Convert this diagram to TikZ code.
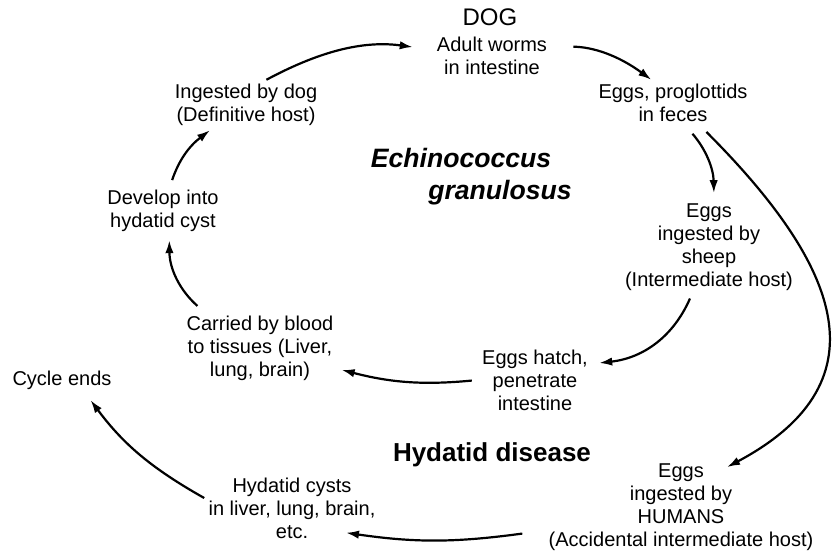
\documentclass[tikz,border=0pt]{standalone}
\usepackage{fontspec}
\setmainfont{Liberation Sans}
\usetikzlibrary{arrows.meta}
\tikzset{>=latex}
\tikzset{
	lbl/.style={align=center, inner sep=2pt, font=\fontsize{10}{11.5}\selectfont},
	ttl/.style={inner sep=2pt, font=\fontsize{13.3}{15}\selectfont\bfseries\itshape},
	cyc/.style={-{Latex[length=6.5pt, width=4.2pt]}, line width=1.1pt}
}

\begin{document}
\begin{tikzpicture}[x=0.5pt, y=-0.5pt]
	% Frame:
	\useasboundingbox (0, 0) rectangle (837, 556);
	% Stages of the cycle:
	\node[lbl, font=\fontsize{12}{14}\selectfont] (dog) at (490, 17){DOG};
	\node[lbl] (adult) at (492, 56){Adult worms\\in intestine};
	\node[lbl] (feces) at (673, 103){Eggs, proglottids\\in feces};
	\node[lbl] (sheep) at (709, 247){Eggs\\ingested by\\sheep\\(Intermediate host)};
	\node[lbl] (hatch) at (535, 380){Eggs hatch,\\penetrate\\intestine};
	\node[lbl] (carried) at (260, 348){Carried by blood\\to tissues (Liver,\\lung, brain)};
	\node[lbl] (develop) at (163, 211){Develop into\\hydatid cyst};
	\node[lbl] (ingested) at (246, 105){Ingested by dog\\(Definitive host)};
	\node[lbl] (humans) at (681, 507){Eggs\\ingested by\\HUMANS\\(Accidental intermediate host)};
	\node[lbl] (cysts) at (292, 508){Hydatid cysts\\in liver, lung, brain,\\etc.};
	\node[lbl] (cycle) at (62, 380){Cycle ends};
	% Titles:
	\node[ttl] (echi) at (461, 158){Echinococcus};
	\node[ttl] (gran) at (500, 193){granulosus};
	\node[ttl, font=\fontsize{13}{15}\selectfont\bfseries] (disease) at (492, 455){Hydatid disease};
	% Arrows:
	\draw[cyc, shorten >=10pt] (ingested.51) to[bend left=18] (adult.174);
	\draw[cyc, shorten <=11pt] (adult.9) to[bend left=18] (feces.133);
	\draw[cyc, shorten <=5pt, shorten >=3pt] (feces.-61) to[bend left=20] (sheep.84);
	\draw[cyc, shorten <=4pt] (feces.-40) to[out=-45, in=28, looseness=1.4] ([shift={(23pt,-4pt)}]humans.north);
	\draw[cyc, shorten <=2pt] (sheep.-110) to[bend left=30] ([shift={(3.5pt,8.5pt)}]hatch.east);
	\draw[cyc, shorten <=3pt, shorten >=2pt] (hatch.west) to[bend left=10] (carried.-15);
	\draw[cyc, shorten <=4pt, shorten >=2pt] (carried.147) to[bend left=24] (develop.-76);
	\draw[cyc, shorten <=3pt] (develop.74) to[bend left=17] (ingested.215);
	\draw[cyc] ([xshift=-11pt]humans.191) to[bend left=8] ([shift={(27pt,5pt)}]cysts.south);
	\draw[cyc, shorten >=4pt] ([yshift=5pt]cysts.west) to[bend left=12] (cycle.-30);
\end{tikzpicture}
\end{document}
